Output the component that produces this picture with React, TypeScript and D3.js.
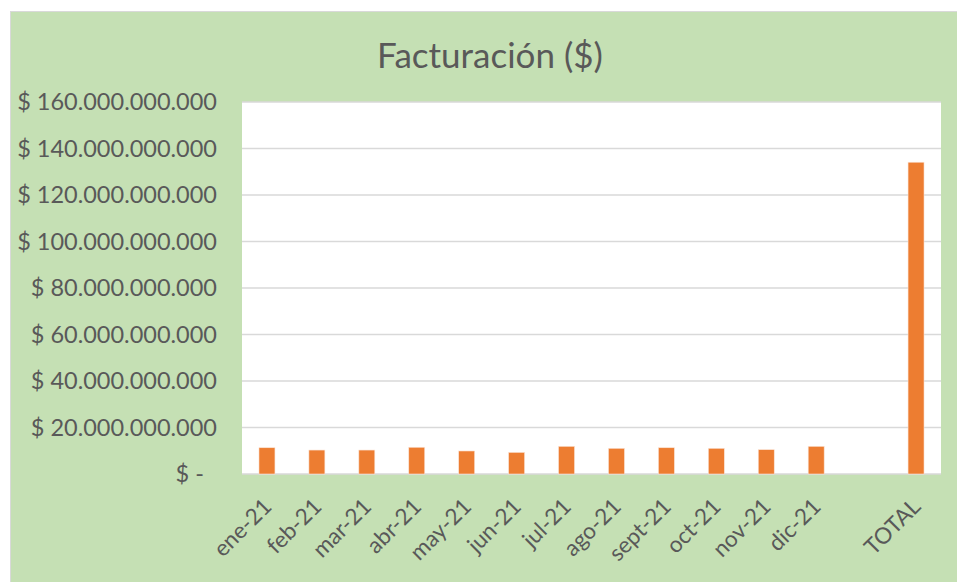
import React from "react";
import * as d3 from "d3";

const categories = ["ene-21", "feb-21", "mar-21", "abr-21", "may-21", "jun-21", "jul-21", "ago-21", "sept-21", "oct-21", "nov-21", "dic-21", "", "TOTAL"];
const values = [11.3e9, 10.3e9, 10.3e9, 11.5e9, 9.9e9, 9.3e9, 11.9e9, 11.05e9, 11.3e9, 11.05e9, 10.45e9, 11.9e9, null, 134.1e9];
const yTicks = [0, 20e9, 40e9, 60e9, 80e9, 100e9, 120e9, 140e9, 160e9];

const W = 957;
const H = 582;
const plot = { left: 242, right: 941, top: 102, bottom: 474 };
const font = "Lato, 'Open Sans', sans-serif";
const textColor = "#595959";

const fmt = (v: number) =>
  v === 0 ? "$ -" : "$ " + d3.format(",")(v).replace(/,/g, ".");

export default function App() {
  const x = d3
    .scaleBand<string>()
    .domain(categories.map((c, i) => c + "#" + i))
    .range([plot.left, plot.right])
    .paddingInner(0.68)
    .paddingOuter(0.34);
  const y = d3.scaleLinear().domain([0, 160e9]).range([plot.bottom, plot.top]);

  return (
    <svg
      width={W}
      height={H}
      style={{ position: "absolute", left: 0, top: 0 }}
      fontFamily={font}
    >
      <rect x={0} y={0} width={W} height={H} fill="#ffffff" />
      <rect x={10.5} y={11.5} width={W - 10} height={H - 11} fill="#C5E0B4" stroke="#D9D9D9" />
      <text x={490} y={68} textAnchor="middle" fontSize={35} fill={textColor}>
        Facturación ($)
      </text>
      <rect
        x={plot.left}
        y={plot.top}
        width={plot.right - plot.left}
        height={plot.bottom - plot.top}
        fill="#ffffff"
      />
      {yTicks.map((t) => (
        <g key={t}>
          <line
            x1={plot.left}
            x2={plot.right}
            y1={y(t)}
            y2={y(t)}
            stroke="#D9D9D9"
            strokeWidth={1.5}
          />
          <text
            x={t === 0 ? 204 : 217}
            y={y(t)}
            dy="0.35em"
            textAnchor="end"
            fontSize={23.5}
            fill={textColor}
          >
            {fmt(t)}
          </text>
        </g>
      ))}
      {categories.map((c, i) => {
        const v = values[i];
        const key = c + "#" + i;
        const bx = x(key)!;
        const cx = bx + x.bandwidth() / 2;
        return (
          <g key={key}>
            {v != null && (
              <rect
                x={bx}
                y={y(v)}
                width={x.bandwidth()}
                height={y(0) - y(v)}
                fill="#ED7D31"
                stroke="#FBE3D4"
                strokeWidth={0.6}
              />
            )}
            {c && (
              <text
                transform={`translate(${cx + 6},${plot.bottom + 34}) rotate(-45)`}
                textAnchor="end"
                fontSize={22.5}
                fill={textColor}
              >
                {c}
              </text>
            )}
          </g>
        );
      })}
    </svg>
  );
}
